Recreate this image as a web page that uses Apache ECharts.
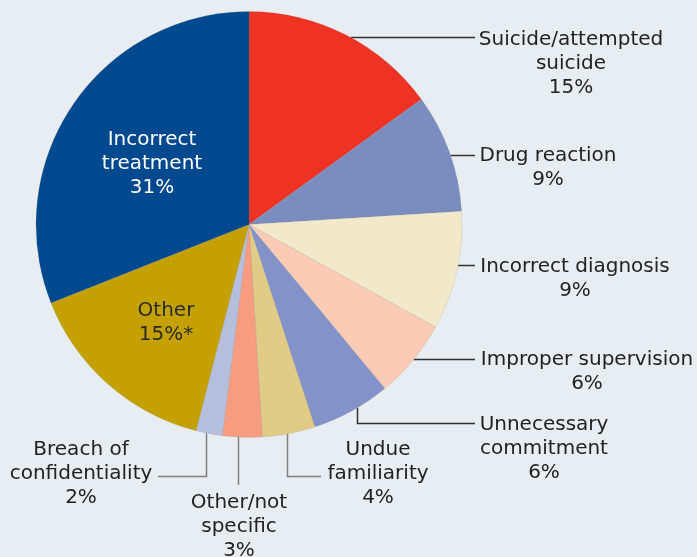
<!DOCTYPE html>
<html>
<head>
<meta charset="utf-8">
<script src="https://cdn.jsdelivr.net/npm/echarts@6/dist/echarts.min.js"></script>
<style>
html,body{margin:0;padding:0;background:#e8edf1;}
#c{width:697px;height:557px;}
</style>
</head>
<body>
<div id="c"></div>
<script>
const categories = ['Suicide/attempted\nsuicide', 'Drug reaction', 'Incorrect diagnosis', 'Improper supervision', 'Unnecessary\ncommitment', 'Undue\nfamiliarity', 'Other/not\nspecific', 'Breach of\nconfidentiality', 'Other', 'Incorrect\ntreatment'];
const values = [15, 9, 9, 6, 6, 4, 3, 2, 15, 31];
const valueSuffix = ['', '', '', '', '', '', '', '', '*', ''];
const colors = ['#ee3224', '#7b8dbf', '#f2e8ca', '#fccbb6', '#8393c9', '#e0cc86', '#f89c7f', '#b5bedd', '#c4a100', '#00498f'];

const CX = 249, CY = 224.5, R = 213;
// label placement: text centre x, first-line centre y, leader type
const place = [
  {tx: 571, ty: 40, type: 'h', ly: 37.5, ex: 475, lc: '#333333'},
  {tx: 548, ty: 156, type: 'h', ly: 155.5, ex: 475, lc: '#333333'},
  {tx: 575, ty: 267, type: 'h', ly: 265.5, ex: 475, lc: '#333333'},
  {tx: 587, ty: 360, type: 'h', ly: 359.5, ex: 475, lc: '#333333'},
  {tx: 544, ty: 425, type: 'v', lx: 357.5, ly: 423.5, ex: 475, lc: '#333333'},
  {tx: 378, ty: 450, type: 'v', lx: 287.5, ly: 476.5, ex: 321, lc: '#808080'},
  {tx: 239, ty: 503, type: 'v', lx: 238.5, ly: 485, ex: null, lc: '#808080'},
  {tx: 81, ty: 450, type: 'v', lx: 206.5, ly: 476.5, ex: 158, lc: '#808080'},
  {tx: 166, ty: 311, type: 'in', color: '#2b2b2b'},
  {tx: 152, ty: 140, type: 'in', color: '#ffffff'}
];

const data = categories.map((n, i) => {
  const p = place[i];
  return {
    name: n,
    value: values[i],
    itemStyle: {color: colors[i]},
    label: {color: p.color || '#222222'},
    labelLine: {show: p.type !== 'in', lineStyle: {color: p.lc || '#808080', width: 1.5}}
  };
});

const chart = echarts.init(document.getElementById('c'), null, {renderer: 'canvas'});
chart.setOption({
  backgroundColor: '#e8edf1',
  animation: false,
  series: [{
    type: 'pie',
    center: [CX, CY],
    radius: [0, R],
    startAngle: 90,
    clockwise: true,
    avoidLabelOverlap: false,
    data: data,
    itemStyle: {borderColor: 'rgba(120,120,120,0.3)', borderWidth: 0.5},
    label: {
      show: true,
      position: 'outside',
      formatter: (p) => p.name + '\n' + p.value + '%' + valueSuffix[p.dataIndex],
      fontFamily: 'DejaVu Sans',
      fontSize: 20,
      lineHeight: 24,
      align: 'center'
    },
    labelLine: {show: true, length: 10, length2: 10, smooth: false},
    labelLayout: function (params) {
      const i = params.dataIndex;
      const p = place[i];
      const res = {x: p.tx, y: p.ty - 12, align: 'center', verticalAlign: 'top'};
      if (p.type === 'h') {
        const sx = CX + Math.sqrt(R * R - (p.ly - CY) * (p.ly - CY));
        res.labelLinePoints = [[sx, p.ly], [sx, p.ly], [p.ex, p.ly]];
      } else if (p.type === 'v') {
        const sy = CY + Math.sqrt(R * R - (p.lx - CX) * (p.lx - CX));
        if (p.ex === null) {
          res.labelLinePoints = [[p.lx, sy], [p.lx, p.ly], [p.lx, p.ly]];
        } else {
          res.labelLinePoints = [[p.lx, sy], [p.lx, p.ly], [p.ex, p.ly]];
        }
      }
      return res;
    }
  }]
});
</script>
</body>
</html>
